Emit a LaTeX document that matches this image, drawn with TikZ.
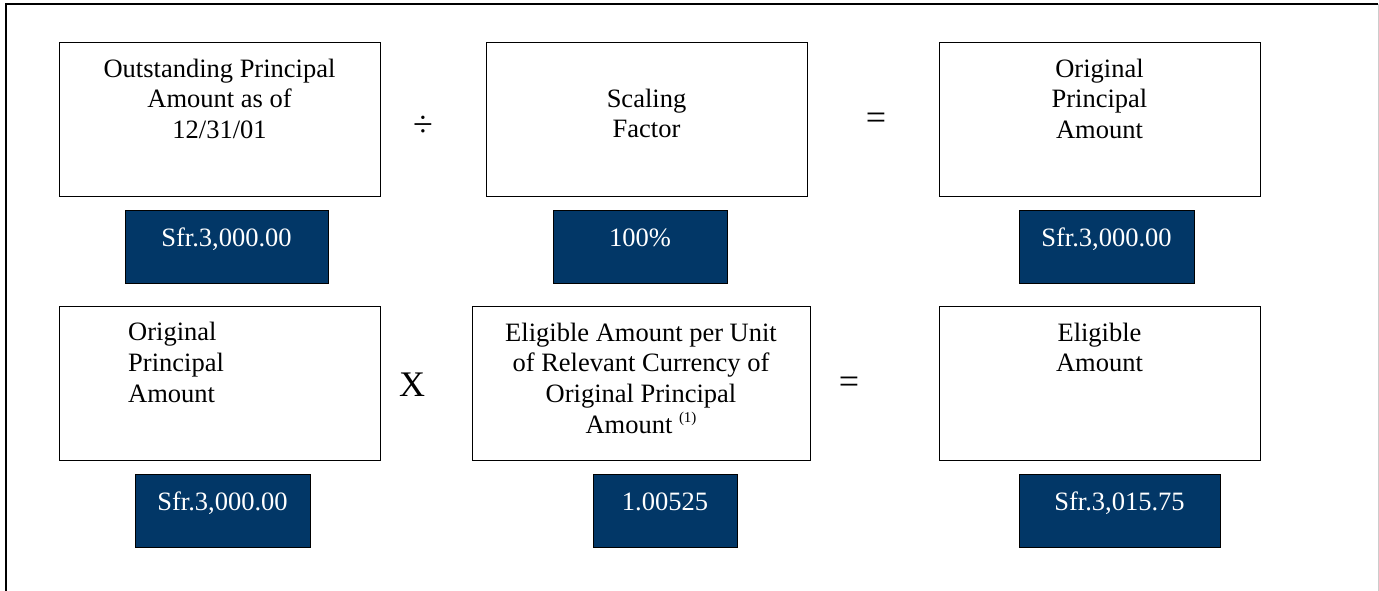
\documentclass[tikz,border=0pt]{standalone}
\usepackage{fontspec}
\setmainfont{Liberation Serif}
\definecolor{navy}{HTML}{023767}
\tikzset{
  wbox/.style={draw=black, line width=1.4pt, fill=white, inner sep=0pt, anchor=north west},
  dbox/.style={draw=black, line width=1.2pt, fill=navy, inner sep=0pt, anchor=north west},
  wtext/.style={inner sep=0pt, anchor=north, align=center, text=black, font=\fontsize{26.5}{30.7}\selectfont},
  dtext/.style={inner sep=0pt, anchor=north, align=center, text=white, font=\fontsize{26.5}{30.7}\selectfont},
  opsym/.style={inner sep=0pt, anchor=center, font=\fontsize{36}{36}\selectfont}
}
\begin{document}
\begin{tikzpicture}[x=1pt,y=-1pt]
\useasboundingbox (0,0) rectangle (1379,591);
% frame
\coordinate (fbl) at (6,593);
\coordinate (ftl) at (6,4);
\coordinate (ftr) at (1378,4);
\coordinate (fbr) at (1378,593);
\draw[line width=2pt, black] (fbl) -- (ftl) -- (ftr);
\draw[line width=1pt, black!20] (ftr) -- (fbr);

% top row
\node[wbox, minimum width=321pt, minimum height=154pt] (b1) at (59,42) {};
\node[wbox, minimum width=321pt, minimum height=154pt] (b2) at (486,42) {};
\node[wbox, minimum width=321pt, minimum height=154pt] (b3) at (939,42) {};
\node[wtext] (t1) at (219.5,55.5) {\strut Outstanding Principal\\Amount as of\\12/31/01};
\node[wtext] (t2) at (646.5,85.5) {\strut Scaling\\Factor};
\node[wtext] (t3) at (1099.5,55.5) {\strut Original\\Principal\\Amount};

\node[dbox, minimum width=203pt, minimum height=73pt] (d1) at (125,210) {};
\node[dbox, minimum width=174pt, minimum height=73pt] (d2) at (553,210) {};
\node[dbox, minimum width=175pt, minimum height=73pt] (d3) at (1019,210) {};
\node[dtext] (v1) at (226.5,224.5) {\strut Sfr.3,000.00};
\node[dtext] (v2) at (640,224.5) {\strut 100\%};
\node[dtext] (v3) at (1106.5,224.5) {\strut Sfr.3,000.00};

\node[opsym] (op1) at (423,126) {÷};
\node[opsym] (op2) at (876,121) {=};

% bottom row
\node[wbox, minimum width=321pt, minimum height=154pt] (b4) at (59,306) {};
\node[wbox, minimum width=338pt, minimum height=154pt] (b5) at (472,306) {};
\node[wbox, minimum width=321pt, minimum height=154pt] (b6) at (939,306) {};
\node[wtext, anchor=north west, align=left] (t4) at (128,319) {\strut Original\\Principal\\Amount};
\node[wtext] (t5) at (641,319.5) {\strut Eligible Amount per Unit\\of Relevant Currency of\\Original Principal\\Amount \raisebox{11pt}{\fontsize{15}{15}\selectfont(1)}};
\node[wtext] (t6) at (1099.5,319.5) {\strut Eligible\\Amount};

\node[dbox, minimum width=175pt, minimum height=73pt] (d4) at (135,474) {};
\node[dbox, minimum width=144pt, minimum height=73pt] (d5) at (593,474) {};
\node[dbox, minimum width=201pt, minimum height=73pt] (d6) at (1019,474) {};
\node[dtext] (v4) at (222.5,488.5) {\strut Sfr.3,000.00};
\node[dtext] (v5) at (665,488.5) {\strut 1.00525};
\node[dtext] (v6) at (1119.5,488.5) {\strut Sfr.3,015.75};

\node[opsym] (op3) at (412,385) {X};
\node[opsym] (op4) at (849,385) {=};
\end{tikzpicture}
\end{document}
